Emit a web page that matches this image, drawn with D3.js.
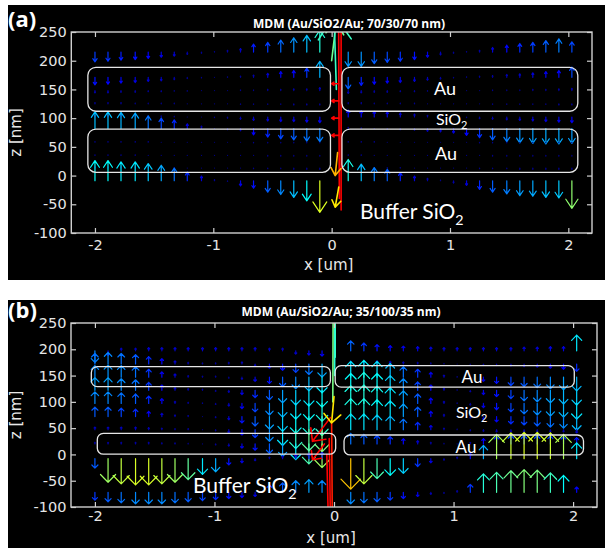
<!DOCTYPE html>
<html><head><meta charset="utf-8">
<script src="https://cdn.jsdelivr.net/npm/d3@7"></script>
<style>body{margin:0;background:#fff}svg{display:block}</style>
</head><body>
<svg id="c" width="610" height="548"></svg>
<script>
// ---------- DATA ----------
const xCols = [-2.00,-1.89,-1.78,-1.66,-1.55,-1.44,-1.33,-1.22,-1.10,-0.99,-0.88,-0.77,-0.66,-0.54,-0.43,-0.32,-0.21,-0.10,
               0.14,0.25,0.36,0.47,0.58,0.70,0.81,0.92,1.03,1.14,1.25,1.36,1.48,1.59,1.70,1.81,1.92,2.03];
const xTicks = [-2,-1,0,1,2];
const zTicks = [250,200,150,100,50,0,-50,-100];

// Panel (a): vertical field component (nm) per row
const zRowsA = [215,171,148,125,102,82,58,35,13,-9];
const a215 = [-17,-16,-14,-13,-11,-9,-7,-4,-2,1,3,6,14,17,21,25,29,38, -25,-25,-20,-18,-16,-13,-9,-5,-2,1,3,8,12,15,17,20,23,18];
const a171 = [-13,-12,-10,-9,-7,-6,-4,-2,-1,0,1,2,4,7,10,12,16,28, -20,-14,-12,-10,-9,-7,-5,-3,-1,1,2,3,5,6,8,10,12,18];
const a148 = [-4,-4,-3,-3,-2,-2,-1,-1,0,0,0,1,1,2,2,3,3,5, -5,-4,-3,-3,-2,-2,-1,-1,0,0,0,1,1,1,2,2,3,4];
const a125 = [2,2,2,1,1,1,1,0,0,0,0,-1,-1,-1,-1,-2,-2,-2, 2,2,1,1,1,1,0,0,0,0,0,-1,-1,-1,-1,-1,-2,-2];
const a102 = [3,3,3,3,2,2,1,0,0,-1,-2,-4,-6,-7,-8,-8,-9,-10, 12,11,10,9,7,5,3,1,0,-1,-3,-4,-5,-6,-7,-8,-9,-10];
const a82  = [29,29,28,27,22,18,15,8,4,0,-2,-4,-11,-15,-18,-20,-22,-23, 2,1,0,-1,-2,-3,-5,-6,-8,-12,-16,-20,-23,-25,-26,-27,-27,-26];
const a58  = [1,1,1,1,1,0,0,0,0,0,0,0,-1,-1,-1,-1,-1,-1, 1,1,1,0,0,0,0,0,0,0,-1,-1,-1,-1,-1,-1,-1,-1];
const a35  = [1,1,1,1,0,0,0,0,0,0,0,0,0,-1,-1,-1,-1,-1, 1,1,0,0,0,0,0,0,0,0,0,-1,-1,-1,-1,-1,-1,-1];
const a13  = [2,2,2,2,1,1,1,0,0,0,0,0,-1,-1,-1,-2,-2,-2, 2,2,1,1,1,0,0,0,0,0,-1,-1,-1,-2,-2,-2,-2,-2];
const am9  = [35,35,33,33,30,27,22,15,8,2,-1,-9,-13,-20,-24,-29,-35,-55, 37,29,23,20,14,8,4,1,-4,-8,-15,-20,-23,-26,-27,-29,-30,-48];
// gap (x≈0) arrows of panel (a)
const gapAx = [0.08,0.065,0.0,0.04,0.06,0.05,0.06,0.06,0.06,0.06];
const gapAz = [-60,-40,200,150,-20,40,160,130,100,70];
const gapAu = [0,-0.01,0.04,-0.02,-0.03,-0.02,-0.06,-0.06,-0.06,-0.06];
const gapAv = [500,500,70,130,-35,-40,0,0,0,0];
const gapAm = [90,86,45,40,60,65,88,88,88,88];
// layer outlines (a)
const rectAx0 = [-2.06,0.087,-2.06,0.087], rectAx1 = [-0.01,2.08,-0.01,2.08];
const rectAz0 = [112,112,5.5,5.5], rectAz1 = [188.5,188.5,81,81];

// Panel (b)
const zRowsB = [197,172,147,122,97,72,47,20,-8,-72];
const b197 = [-22,-9,5,5,6,6,6,6,6,6,6,6,6,5,5,-6,-8,-10, 19,15,12,10,9,8,7,6,6,6,6,6,6,7,7,8,8,30];
const b172 = [20,22,20,18,14,10,6,3,2,2,3,4,-4,-8,-12,-16,-20,-25, 5,6,6,5,4,3,2,1,0,-1,-2,-3,-4,-5,-6,-8,-10,-14];
const b147 = [22,23,22,20,15,10,6,3,2,2,-2,-4,-8,-12,-18,-22,-26,-30, 30,32,30,26,20,15,9,4,1,-3,-8,-12,-16,-18,-20,-22,-24,-26];
const b122 = [24,24,22,20,15,10,5,3,2,-2,-4,-8,-14,-18,-24,-28,-30,-32, 32,34,32,28,22,16,10,4,1,-3,-8,-12,-16,-20,-22,-24,-26,-28];
const b97  = [22,22,20,18,14,9,4,2,1,-2,-5,-10,-16,-22,-26,-30,-32,-34, 34,35,33,30,24,18,10,4,1,-3,-8,-12,-16,-20,-22,-24,-26,-30];
const b72  = [18,18,16,14,10,6,3,2,0,-2,-6,-12,-18,-24,-28,-32,-34,-36, 34,34,32,30,24,18,10,4,1,-3,-6,-10,-14,-16,-18,-20,-22,-26];
const b47  = [5,5,5,5,4,3,2,2,0,-2,-6,-10,-15,-22,-30,-36,-40,-42, 30,30,28,26,20,14,8,3,1,-2,-3,-4,-4,-4,-4,-4,-4,-6];
const b20  = [3,3,3,3,3,2,2,1,0,-2,-4,-8,-12,-18,-24,-30,-38,-45, 20,18,16,14,10,6,3,1,0,3,10,14,16,16,16,15,14,12];
const bm8  = [-18,-45,-48,-50,-50,-48,-45,-40,-30,-25,-12,-8,-4,3,5,8,10,12, -58,-48,-38,-32,-28,-15,-8,-3,3,10,25,46,49,50,50,49,46,30];
const bm72 = [-15,-18,-20,-22,-22,-22,-20,-18,-16,-14,-12,-10,-8,14,18,22,24,22, -22,-20,-18,-15,-12,-8,-4,-2,3,15,35,38,41,43,42,37,32,10];
const gapBx = [0.01,0.005,-0.01,-0.02,-0.04,-0.06,-0.03,-0.08,0.0];
const gapBz = [185,150,100,60,30,0,70,20,110];
const gapBu = [0,0.005,0.005,0.01,0.02,0.03,-0.15,-0.1,-0.02];
const gapBv = [300,300,300,-300,-300,-300,-45,-30,-50];
const gapBm = [38,35,42,72,80,84,75,80,55];
const rectBx0 = [-2.03,0.01,-1.98,0.084], rectBx1 = [-0.03,2.01,0.014,2.087];
const rectBz0 = [129,128,0.4,-1], rectBz1 = [167,169,40,37];

// ---------- DRAW ----------
const svg = d3.select('#c');
function jet(t){
  const c = v => Math.max(0, Math.min(1, v));
  const r = c(1.5 - Math.abs(4*t - 3)), g = c(1.5 - Math.abs(4*t - 2)), b = c(1.5 - Math.abs(4*t - 1));
  return d3.rgb(r*255, g*255, b*255).toString();
}
function arrowPath(x0,y0,x1,y1,s){
  const dx = x1-x0, dy = y1-y0, L = Math.hypot(dx,dy);
  if (L < 0.4) return `M${x0},${y0}L${x0+0.05},${y0}`;
  const bx = x1-0.33*dx, by = y1-0.33*dy, px = -dy*s, py = dx*s;
  return `M${x0},${y0}L${x1},${y1}M${bx+px},${by+py}L${x1},${y1}L${bx-px},${by-py}`;
}
const plain = d => String(d);

function panel(cfg){
  const g = svg.append('g');
  g.append('rect').attr('x',cfg.bg[0]).attr('y',cfg.bg[1]).attr('width',cfg.bg[2]-cfg.bg[0]).attr('height',cfg.bg[3]-cfg.bg[1]).attr('fill','#000');
  const x = d3.scaleLinear().domain([-2.2,2.2]).range([cfg.L,cfg.R]);
  const y = d3.scaleLinear().domain([-100,250]).range([cfg.B,cfg.T]);
  const clipId = 'clip'+cfg.id;
  svg.append('clipPath').attr('id',clipId).append('rect')
    .attr('x',cfg.L).attr('y',cfg.T).attr('width',cfg.R-cfg.L).attr('height',cfg.B-cfg.T);
  const field = g.append('g').attr('clip-path',`url(#${clipId})`)
    .attr('fill','none').attr('stroke-width',1.2).attr('stroke-linecap','round').attr('stroke-linejoin','round');
  const arrows = [];
  cfg.rows.forEach((vals,i) => {
    vals.forEach((v,j) => arrows.push({x:xCols[j], z:cfg.zRows[i], u:0, v:v, m:Math.abs(v)}));
  });
  cfg.gx.forEach((gx,i) => arrows.push({x:gx, z:cfg.gz[i], u:cfg.gu[i], v:cfg.gv[i], m:cfg.gm[i], gap:true}));
  field.selectAll('path').data(arrows).join('path')
    .attr('d', d => arrowPath(x(d.x), y(d.z), x(d.x+d.u), y(d.z+d.v), cfg.head))
    .attr('stroke-width', d => d.gap ? 1.6 : 1.2)
    .attr('stroke', d => jet(Math.min(d.m/cfg.vmax, 0.875)));
  // layer outlines
  cfg.rx0.forEach((rx,i) => {
    g.append('rect').attr('x',x(rx)).attr('y',y(cfg.rz1[i]))
      .attr('width',x(cfg.rx1[i])-x(rx)).attr('height',y(cfg.rz0[i])-y(cfg.rz1[i]))
      .attr('rx',cfg.rr).attr('ry',cfg.rr)
      .attr('fill','none').attr('stroke','#e6e6e6').attr('stroke-width',1.3);
  });
  // axes
  const axCol = '#cfcfcf';
  const style = sel => {
    sel.select('.domain').remove();
    sel.selectAll('line').attr('stroke',axCol).attr('stroke-width',1.2);
    sel.selectAll('text').attr('fill','#e6e6e6').style('font-family','"DejaVu Sans"').style('font-size','14.5px');
  };
  g.append('g').attr('transform',`translate(0,${cfg.B})`)
    .call(d3.axisBottom(x).tickValues(xTicks).tickFormat(plain).tickSizeInner(-5).tickSizeOuter(0).tickPadding(cfg.xpad)).call(style);
  g.append('g').attr('transform',`translate(0,${cfg.T})`)
    .call(d3.axisTop(x).tickValues(xTicks).tickFormat('').tickSizeInner(-5).tickSizeOuter(0)).call(style);
  g.append('g').attr('transform',`translate(${cfg.L},0)`)
    .call(d3.axisLeft(y).tickValues(zTicks).tickFormat(plain).tickSizeInner(-5).tickSizeOuter(0).tickPadding(4.5)).call(style);
  g.append('g').attr('transform',`translate(${cfg.R},0)`)
    .call(d3.axisRight(y).tickValues(zTicks).tickFormat('').tickSizeInner(-5).tickSizeOuter(0)).call(style);
  g.append('rect').attr('x',cfg.L).attr('y',cfg.T).attr('width',cfg.R-cfg.L).attr('height',cfg.B-cfg.T)
    .attr('fill','none').attr('stroke',axCol).attr('stroke-width',1.4);
  // texts
  g.append('text').attr('x',cfg.title[1]).attr('y',cfg.title[2]).attr('text-anchor','middle')
    .attr('fill','#fff').style('font-family','"Open Sans"').style('font-weight','bold').style('font-size','12px').text(cfg.title[0]);
  g.append('text').attr('x',8).attr('y',cfg.tagY).attr('fill','#fff')
    .style('font-family','"Open Sans"').style('font-weight','bold').style('font-size','22px').text(cfg.tag);
  g.append('text').attr('x',(cfg.L+cfg.R)/2 - 3).attr('y',cfg.xlabY).attr('text-anchor','middle').attr('fill','#e8e8e8')
    .style('font-family','"DejaVu Sans"').style('font-size','15px').text('x [um]');
  g.append('text').attr('transform',`translate(21,${(cfg.T+cfg.B)/2}) rotate(-90)`).attr('text-anchor','middle').attr('fill','#e8e8e8')
    .style('font-family','"DejaVu Sans"').style('font-size','15px').text('z [nm]');
  cfg.labels.forEach(l => {
    const t = g.append('text').attr('x',l.x).attr('y',l.y).attr('fill','#fff').attr('text-anchor',l.a||'start')
      .style('font-family','Lato').style('font-size',l.s+'px');
    t.append('tspan').text(l.t);
    if (l.sub) t.append('tspan').attr('dy',l.s*0.28).style('font-size',(l.s*0.68)+'px').text(l.sub);
  });
}

panel({id:'A', bg:[8,5,605,280], L:71.3, R:592, T:32, B:233, xpad:7, vmax:93, head:0.22, rr:8,
  zRows:zRowsA, rows:[a215,a171,a148,a125,a102,a82,a58,a35,a13,am9],
  gx:gapAx, gz:gapAz, gu:gapAu, gv:gapAv, gm:gapAm,
  rx0:rectAx0, rx1:rectAx1, rz0:rectAz0, rz1:rectAz1,
  title:['MDM (Au/SiO2/Au; 70/30/70 nm)',349,28], tag:'(a)', tagY:27, xlabY:270,
  labels:[{t:'Au',x:445,y:95,s:18,a:'middle'},{t:'SiO',sub:'2',x:436,y:125,s:16},
          {t:'Au',x:446,y:160,s:18,a:'middle'},{t:'Buffer SiO',sub:'2',x:360,y:219,s:21}]});

panel({id:'B', bg:[8,300,605,548], L:71, R:597, T:323, B:507, xpad:3.5, vmax:85, head:0.32, rr:6,
  zRows:zRowsB, rows:[b197,b172,b147,b122,b97,b72,b47,b20,bm8,bm72],
  gx:gapBx, gz:gapBz, gu:gapBu, gv:gapBv, gm:gapBm,
  rx0:rectBx0, rx1:rectBx1, rz0:rectBz0, rz1:rectBz1,
  title:['MDM (Au/SiO2/Au; 35/100/35 nm)',341,316], tag:'(b)', tagY:318, xlabY:543,
  labels:[{t:'Au',x:472,y:383,s:17,a:'middle'},{t:'SiO',sub:'2',x:456,y:418,s:16},
          {t:'Au',x:466,y:453,s:17,a:'middle'},{t:'Buffer SiO',sub:'2',x:193,y:493,s:21}]});
</script>
</body></html>
